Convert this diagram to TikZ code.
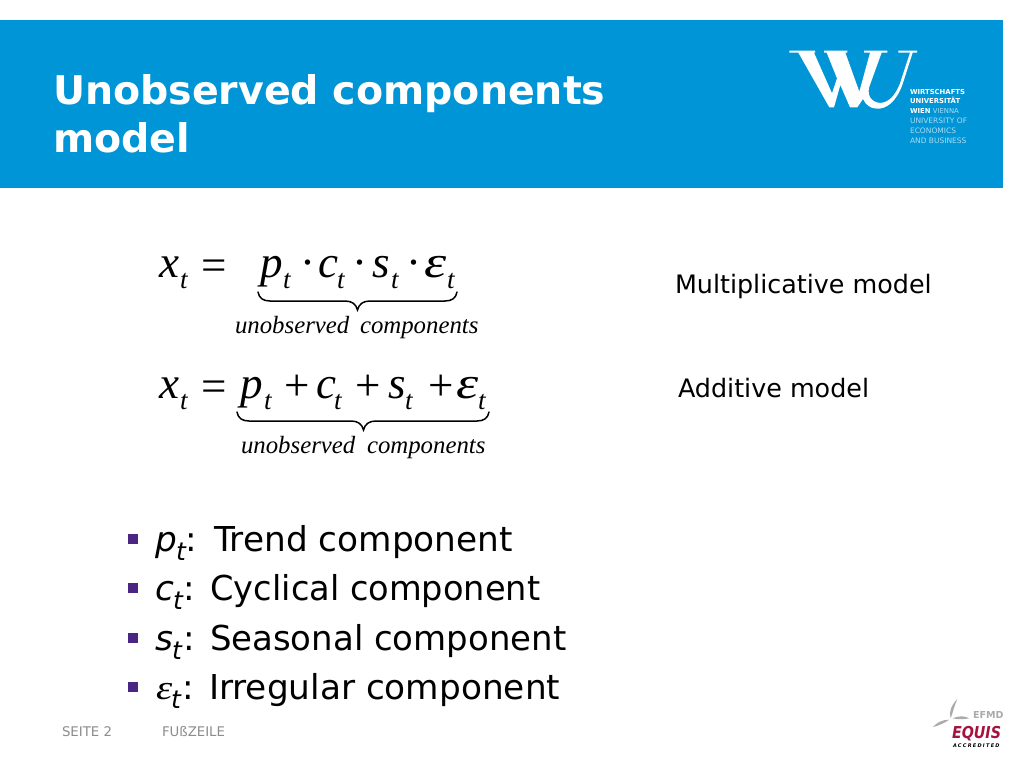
\documentclass[tikz,border=0pt]{standalone}
\usepackage{fontspec}
\setmainfont{DejaVu Sans}
\newfontfamily\tms{Liberation Serif}
\definecolor{wublue}{HTML}{0095D6}
\definecolor{wulight}{HTML}{A8DDF5}
\definecolor{bulletc}{HTML}{4B2584}
\definecolor{footc}{HTML}{8C8C8C}
\definecolor{equisred}{HTML}{A5123F}
\definecolor{efmdgray}{HTML}{ABABAB}
\newcommand{\hs}[2]{\scalebox{#1}[1]{#2}}
\tikzset{
  lbl/.style={anchor=base west,inner sep=0pt,outer sep=0pt},
  titletext/.style={lbl,white,font=\fontsize{39.5}{39.5}\selectfont\bfseries},
  sidetext/.style={lbl,font=\fontsize{25.4}{25.4}\selectfont},
  itemtext/.style={lbl,font=\fontsize{34.3}{34.3}\selectfont},
  itemsub/.style={lbl,font=\fontsize{25}{25}\selectfont\itshape},
  foottext/.style={lbl,footc,font=\fontsize{13.3}{13.3}\selectfont},
  mainsym/.style={lbl,font=\fontsize{45}{45}\selectfont\tms\itshape},
  subsym/.style={lbl,font=\fontsize{27}{27}\selectfont\tms\itshape},
  opsym/.style={lbl,font=\fontsize{45}{45}\selectfont\tms},
  undertext/.style={lbl,font=\fontsize{24.8}{24.8}\selectfont\tms\itshape},
  logotext/.style={lbl,white,font=\fontsize{6.85}{6.85}\selectfont\bfseries},
  logolight/.style={lbl,wulight,font=\fontsize{7.5}{7.5}\selectfont},
  bracepath/.style={draw,line width=1.5pt,line cap=round}
}
\begin{document}
\begin{tikzpicture}[x=1pt,y=-1pt]
\useasboundingbox (0,0) rectangle (1024,768);
\fill[white] (0,0) rectangle (1024,768);
\fill[wublue] (0,20) rectangle (1003,188);
% title
\node[titletext] (t1) at (53,104) {Unobserved components};
\node[titletext] (t2) at (53,152) {model};
% WU logo
\begin{scope}[shift={(770,30)},x=0.3333pt,y=-0.3333pt]
\fill[white] (58,62) -- (135,62) -- (135,68) -- (132,68) -- (186,190) -- (201,145) -- (170,68) -- (162,68) -- (162,62) -- (232,62) -- (232,68) -- (226,68) -- (268,185) -- (300,68) -- (282,68) -- (282,62) -- (352,62) -- (352,68) -- (335,68) -- (298,170) .. controls (288,205) and (315,222) .. (338,218) .. controls (365,212) and (380,185) .. (390,160) -- (420,68) -- (385,68) -- (385,62) -- (441,62) -- (441,68) -- (428,68) -- (397,165) .. controls (378,215) and (350,238) .. (320,236) .. controls (300,235) and (288,225) .. (279,207) -- (262,232) -- (240,232) -- (211,165) -- (192,232) -- (178,232) -- (85,68) -- (58,68) -- cycle;
\end{scope}
\node[logotext] (l1) at (910,94) {WIRTSCHAFTS};
\node[logotext] (l2) at (910,103.5) {UNIVERSITÄT};
\node[logotext] (l3) at (910,113) {WIEN \textcolor{wulight}{\mdseries VIENNA}};
\node[logolight] (l4) at (910,123.5) {UNIVERSITY OF};
\node[logolight] (l5) at (910,133.5) {ECONOMICS};
\node[logolight] (l6) at (910,143.5) {AND BUSINESS};
% formula 1
\node[mainsym] (a1) at (159,277) {x};
\node[subsym] (a2) at (180,288) {t};
\node[opsym] (a3) at (201,280) {=};
\node[mainsym] (a4) at (260,277) {p};
\node[subsym] (a5) at (283,288) {t};
\node[opsym] (a6) at (300,277) {·};
\node[mainsym] (a7) at (318,277) {c};
\node[subsym] (a8) at (337,288) {t};
\node[opsym] (a9) at (352,277) {·};
\node[mainsym] (a10) at (372,277) {s};
\node[subsym] (a11) at (391,288) {t};
\node[opsym] (a12) at (406,277) {·};
\node[mainsym] (a13) at (424,277) {\hs{1.25}{ε}};
\node[subsym] (a14) at (447,288) {t};
\draw[bracepath] (258,292) .. controls (259,298) and (263,301) .. (270,301) -- (345,301) .. controls (352,301) and (356,304) .. (357.5,310) .. controls (359,304) and (363,301) .. (370,301) -- (445,301) .. controls (452,301) and (456,298) .. (457,292);
\node[undertext] (u1) at (235,333) {unobserved\hspace{4.5pt} components};
% formula 2
\node[mainsym] (b1) at (159,398) {x};
\node[subsym] (b2) at (180,409) {t};
\node[opsym] (b3) at (201,401) {=};
\node[mainsym] (b4) at (240,398) {p};
\node[subsym] (b5) at (264,409) {t};
\node[opsym] (b6) at (284,400) {+};
\node[mainsym] (b7) at (316,398) {c};
\node[subsym] (b8) at (334,409) {t};
\node[opsym] (b9) at (355,400) {+};
\node[mainsym] (b10) at (388,398) {s};
\node[subsym] (b11) at (405,409) {t};
\node[opsym] (b12) at (428,400) {+};
\node[mainsym] (b13) at (456,398) {\hs{1.25}{ε}};
\node[subsym] (b14) at (478,409) {t};
\draw[bracepath] (237,412) .. controls (238,418) and (242,421) .. (249,421) -- (351,421) .. controls (358,421) and (362,424) .. (363.5,430) .. controls (365,424) and (369,421) .. (376,421) -- (477,421) .. controls (484,421) and (488,418) .. (489,412);
\node[undertext] (u2) at (241,453) {unobserved\hspace{5.5pt} components};
% side labels
\node[sidetext] (m1) at (675,293) {Multiplicative model};
\node[sidetext] (m2) at (678,397) {Additive model};
% bullets
\fill[bulletc] (128,533.5) rectangle (138,543.5);
\fill[bulletc] (128,583) rectangle (138,593);
\fill[bulletc] (128,633) rectangle (138,643);
\fill[bulletc] (128,682) rectangle (138,692);
\node[itemtext] (i1) at (155,551) {\itshape p};
\node[itemsub] (i1s) at (176,560) {t};
\node[itemtext] (i1c) at (185,551) {:};
\node[itemtext] (i1t) at (214,551) {Trend component};
\node[itemtext] (i2) at (155,600) {\itshape c};
\node[itemsub] (i2s) at (173,609) {t};
\node[itemtext] (i2c) at (183,600) {:};
\node[itemtext] (i2t) at (210.5,600) {\hs{0.98}{Cyclical component}};
\node[itemtext] (i3) at (155,650) {\itshape s};
\node[itemsub] (i3s) at (172,659) {t};
\node[itemtext] (i3c) at (183,650) {:};
\node[itemtext] (i3t) at (210,650) {\hs{0.99}{Seasonal component}};
\node[itemtext] (i4) at (156,699) {\tms\itshape\hs{1.2}{ε}};
\node[itemsub] (i4s) at (171,708) {t};
\node[itemtext] (i4c) at (182,699) {:};
\node[itemtext] (i4t) at (209,699) {Irregular component};
% footer
\node[foottext] (f1) at (62,736) {SEITE 2};
\node[foottext] (f2) at (162,736) {FUßZEILE};
% EQUIS logo
\begin{scope}[shift={(910,685)},x=0.3333pt,y=-0.3333pt]
\fill[efmdgray] (142,42) .. controls (125,60) and (115,80) .. (122,100) .. controls (128,85) and (132,65) .. (142,42) -- cycle;
\fill[efmdgray] (68,127) .. controls (85,122) and (105,113) .. (118,104) .. controls (98,104) and (80,112) .. (68,127) -- cycle;
\fill[efmdgray] (128,100) .. controls (145,92) and (165,92) .. (178,100) .. controls (160,103) and (143,104) .. (128,100) -- cycle;
\end{scope}
\node[lbl,efmdgray,font=\fontsize{9.6}{9.6}\selectfont\bfseries] (e1) at (973,718) {EFMD};
\node[lbl,equisred,font=\fontsize{16.4}{16.4}\selectfont\bfseries\itshape] (e2) at (952,738) {\hs{0.87}{EQUIS}};
\node[lbl,black,font=\fontsize{5}{5}\selectfont\bfseries\itshape\addfontfeature{LetterSpace=25}] (e3) at (953,747.5) {ACCREDITED};
\end{tikzpicture}
\end{document}
